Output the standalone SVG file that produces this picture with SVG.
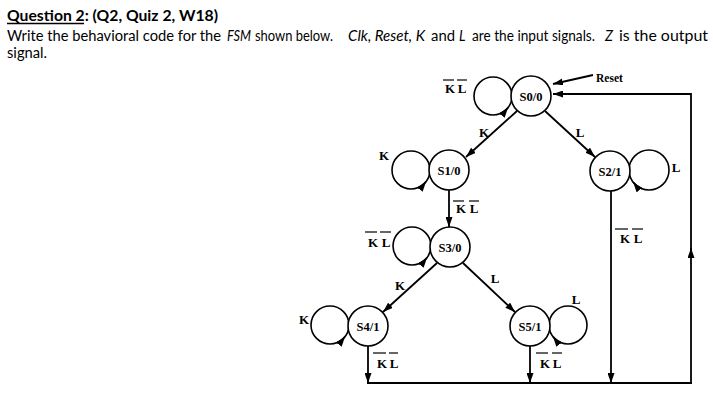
<svg xmlns="http://www.w3.org/2000/svg" width="713" height="403" viewBox="0 0 713 403">
<defs>
<marker id="ah" markerUnits="userSpaceOnUse" markerWidth="11" markerHeight="7" refX="10" refY="3.5" orient="auto">
<path d="M0,0 L10,3.5 L0,7 Z" fill="#000"/>
</marker>
</defs>
<style>
.hd{font-family:Lato,"Liberation Sans",sans-serif;font-size:14.5px;fill:#000}
.it{font-style:italic}
.st{fill:#fff;stroke:#000;stroke-width:1.6}
.lp{fill:none;stroke:#000;stroke-width:1.6}
.sl{font-family:"Liberation Serif",serif;font-weight:bold;font-size:12.5px;text-anchor:middle;fill:#000}
.el{font-family:"Liberation Serif",serif;font-weight:bold;font-size:13px;text-anchor:middle;fill:#000}
.ln{fill:none;stroke:#000;stroke-width:1.8}
.ob{stroke:#000;stroke-width:1.2}
</style>
<rect width="713" height="403" fill="#fff"/>
<g id="header">
<text class="hd" x="7" y="21" font-weight="bold" style="font-size:15.5px" textLength="211" lengthAdjust="spacingAndGlyphs">Question 2: (Q2, Quiz 2, W18)</text>
<line x1="7" y1="23.5" x2="84" y2="23.5" stroke="#000" stroke-width="1.3"/>
<text class="hd" x="7" y="41" textLength="214" lengthAdjust="spacingAndGlyphs">Write the behavioral code for the</text>
<text class="hd it" x="227" y="41" textLength="24" lengthAdjust="spacingAndGlyphs">FSM</text>
<text class="hd" x="255" y="41" textLength="78" lengthAdjust="spacingAndGlyphs">shown below.</text>
<text class="hd it" x="348" y="41" textLength="77" lengthAdjust="spacingAndGlyphs">Clk, Reset, K</text>
<text class="hd" x="431" y="41" textLength="24" lengthAdjust="spacingAndGlyphs">and</text>
<text class="hd it" x="459" y="41" textLength="6.5" lengthAdjust="spacingAndGlyphs">L</text>
<text class="hd" x="472" y="41" textLength="123" lengthAdjust="spacingAndGlyphs">are the input signals.</text>
<text class="hd it" x="605" y="41" textLength="8" lengthAdjust="spacingAndGlyphs">Z</text>
<text class="hd" x="619" y="41" textLength="89" lengthAdjust="spacingAndGlyphs">is the output</text>
<text class="hd" x="7" y="58" textLength="40" lengthAdjust="spacingAndGlyphs">signal.</text>
</g>
<g id="connectors">
<circle class="lp" cx="493" cy="96" r="19"/>
<path class="lp" d="M499.5,113.9 A19,19 0 0 0 508,107.7" marker-end="url(#ah)"/>
<circle class="lp" cx="411" cy="170" r="19"/>
<path class="lp" d="M417.5,187.9 A19,19 0 0 0 426,181.7" marker-end="url(#ah)"/>
<circle class="lp" cx="412" cy="246" r="19"/>
<path class="lp" d="M418.5,263.9 A19,19 0 0 0 427,257.7" marker-end="url(#ah)"/>
<circle class="lp" cx="330" cy="325" r="19"/>
<path class="lp" d="M336.5,342.9 A19,19 0 0 0 345,336.7" marker-end="url(#ah)"/>
<circle class="lp" cx="568" cy="325" r="19"/>
<path class="lp" d="M561.5,342.9 A19,19 0 0 1 553,336.7" marker-end="url(#ah)"/>
<circle class="lp" cx="649" cy="170" r="20"/>
<path class="lp" d="M642.2,188.8 A20,20 0 0 1 633.2,182.3" marker-end="url(#ah)"/>
<line class="ln" x1="517" y1="111" x2="466" y2="157" marker-end="url(#ah)"/>
<line class="ln" x1="545" y1="111" x2="595" y2="157" marker-end="url(#ah)"/>
<line class="ln" x1="449" y1="190" x2="449" y2="227" marker-end="url(#ah)"/>
<line class="ln" x1="437" y1="263" x2="383" y2="312" marker-end="url(#ah)"/>
<line class="ln" x1="463" y1="263" x2="515" y2="312" marker-end="url(#ah)"/>
<line class="ln" x1="368" y1="346" x2="368" y2="383" marker-end="url(#ah)"/>
<line class="ln" x1="530" y1="346" x2="530" y2="383" marker-end="url(#ah)"/>
<line class="ln" x1="611" y1="191" x2="611" y2="383" marker-end="url(#ah)"/>
<line class="ln" x1="367" y1="383" x2="692" y2="383"/>
<line class="ln" x1="691" y1="383" x2="691" y2="248" marker-end="url(#ah)"/>
<path class="ln" d="M691,250 L691,94 L553,94" marker-end="url(#ah)"/>
<line class="ln" x1="593" y1="75" x2="553" y2="84" marker-end="url(#ah)"/>
</g>
<g id="S0">
<circle class="st" cx="531" cy="96" r="20"/>
<text class="sl" x="531" y="100.5">S0/0</text>
</g>
<g id="S1">
<circle class="st" cx="449" cy="170" r="20"/>
<text class="sl" x="449" y="174.5">S1/0</text>
</g>
<g id="S2">
<circle class="st" cx="610" cy="171" r="20"/>
<text class="sl" x="610" y="175.5">S2/1</text>
</g>
<g id="S3">
<circle class="st" cx="450" cy="247" r="20"/>
<text class="sl" x="450" y="251.5">S3/0</text>
</g>
<g id="S4">
<circle class="st" cx="368" cy="326" r="20"/>
<text class="sl" x="368" y="330.5">S4/1</text>
</g>
<g id="S5">
<circle class="st" cx="530" cy="326" r="20"/>
<text class="sl" x="530" y="330.5">S5/1</text>
</g>
<g id="labels">
<text class="el" x="450" y="93">K</text><text class="el" x="462" y="93">L</text>
<line class="ob" x1="443" y1="80" x2="454" y2="80"/><line class="ob" x1="457" y1="80" x2="467" y2="80"/>
<text class="el" x="596" y="82" style="text-anchor:start;font-size:11.5px">Reset</text>
<text class="el" x="484" y="137">K</text>
<text class="el" x="580" y="137">L</text>
<text class="el" x="676" y="172">L</text>
<text class="el" x="384" y="160">K</text>
<text class="el" x="461" y="213">K</text><text class="el" x="474" y="213">L</text>
<line class="ob" x1="453" y1="201" x2="464" y2="201"/><line class="ob" x1="469" y1="201" x2="479" y2="201"/>
<text class="el" x="373" y="247">K</text><text class="el" x="386" y="247">L</text>
<line class="ob" x1="365" y1="232" x2="377" y2="232"/><line class="ob" x1="380" y1="232" x2="391" y2="232"/>
<text class="el" x="400" y="290">K</text>
<text class="el" x="495" y="283">L</text>
<text class="el" x="304" y="324">K</text>
<text class="el" x="576" y="304">L</text>
<text class="el" x="382" y="368">K</text><text class="el" x="394" y="368">L</text>
<line class="ob" x1="373" y1="353" x2="386" y2="353"/><line class="ob" x1="389" y1="353" x2="398" y2="353"/>
<text class="el" x="545" y="368">K</text><text class="el" x="557" y="368">L</text>
<line class="ob" x1="536" y1="353" x2="548" y2="353"/><line class="ob" x1="552" y1="353" x2="562" y2="353"/>
<text class="el" x="625" y="243">K</text><text class="el" x="638" y="243">L</text>
<line class="ob" x1="615" y1="229" x2="628" y2="229"/><line class="ob" x1="632" y1="229" x2="643" y2="229"/>
</g>
</svg>
